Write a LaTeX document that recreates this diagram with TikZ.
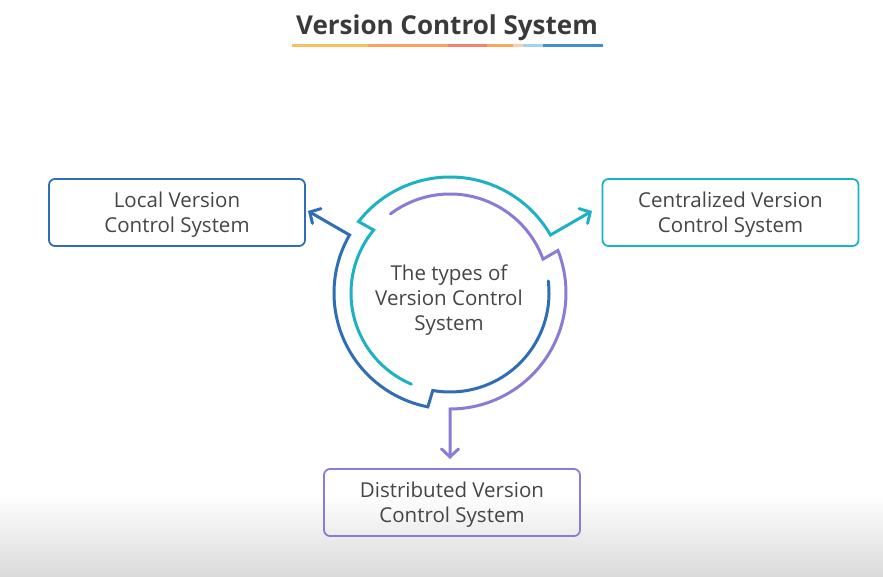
\documentclass[tikz,border=0pt]{standalone}
\usepackage{fontspec}
\setmainfont{Open Sans}
\usetikzlibrary{arrows.meta}
\definecolor{tealc}{HTML}{1DB1C4}
\definecolor{bluec}{HTML}{2F6DB5}
\definecolor{purc}{HTML}{8C7BD6}
\definecolor{txt}{HTML}{454545}
\definecolor{titlec}{HTML}{3A3A3A}
\definecolor{u1}{HTML}{FBBF63}
\definecolor{u2}{HTML}{F9A15E}
\definecolor{u3}{HTML}{F4836E}
\definecolor{u4}{HTML}{F9A55C}
\definecolor{u5}{HTML}{FAD0A8}
\definecolor{u6}{HTML}{9ED5F0}
\definecolor{u7}{HTML}{3F8DD3}
\definecolor{bggray}{HTML}{DADADA}
\newcommand{\toppad}{\rule{0pt}{20pt}}
\tikzset{
  box/.style={draw, minimum width=256pt, minimum height=67pt, rounded corners=6pt,
    line width=1.8pt, align=center, inner sep=0pt, text=txt,
    font=\fontsize{20.5}{25}\selectfont},
  cyc/.style={line width=3pt, line cap=round,
    -{Straight Barb[length=8pt,width=17pt,line cap=round]}},
  uline/.style={line width=3pt}
}
\begin{document}
\begin{tikzpicture}[x=1pt,y=1pt]
\useasboundingbox (0,0) rectangle (883,576);
\shade[top color=white, bottom color=bggray] (0,0) rectangle (883,82);
% title
\node[anchor=base, text=titlec, font=\bfseries\fontsize{26}{30}\selectfont] (title) at (447,541) {Version Control System};
\coordinate (ua) at (292,530);
\draw[uline,u1] (ua) -- ++(76,0) coordinate (ub);
\draw[uline,u2] (ub) -- ++(80,0) coordinate (uc);
\draw[uline,u3] (uc) -- ++(39,0) coordinate (ud);
\draw[uline,u4] (ud) -- ++(26,0) coordinate (ue);
\draw[uline,u5] (ue) -- ++(10,0) coordinate (uf);
\draw[uline,u6] (uf) -- ++(20,0) coordinate (ug);
\draw[uline,u7] (ug) -- ++(60,0) coordinate (uh);
% boxes
\node[box, draw=bluec] (local) at (177,363.5) {\toppad Local Version\\Control System};
\node[box, draw=tealc] (central) at (730.5,363.5) {\toppad Centralized Version\\Control System};
\node[box, draw=purc] (distrib) at (452,73.5) {\toppad Distributed Version\\Control System};
% centre
\node[align=center, text=txt, font=\fontsize{20.5}{25}\selectfont] (center) at (449,275.5) {The types of\\Version Control\\System};
% cycle arcs
\begin{scope}[shift={(450,283)}]
\coordinate (tealtip) at (30:164pt);
\coordinate (purtip) at (-90:166pt);
\coordinate (bluetip) at (150:164pt);
\draw[cyc, tealc] (247:99pt) arc[start angle=247, end angle=140.5, radius=99pt]
  -- (142:116pt) arc[start angle=142, end angle=30, radius=116pt] -- (tealtip);
\draw[cyc, purc] (127:99pt) arc[start angle=127, end angle=20, radius=99pt]
  -- (21.5:116pt) arc[start angle=21.5, end angle=-90, radius=116pt] -- (purtip);
\draw[cyc, bluec] (7:99pt) arc[start angle=7, end angle=-100, radius=99pt]
  -- (-101:116pt) arc[start angle=-101, end angle=-210, radius=116pt] -- (bluetip);
\end{scope}
\end{tikzpicture}
\end{document}
